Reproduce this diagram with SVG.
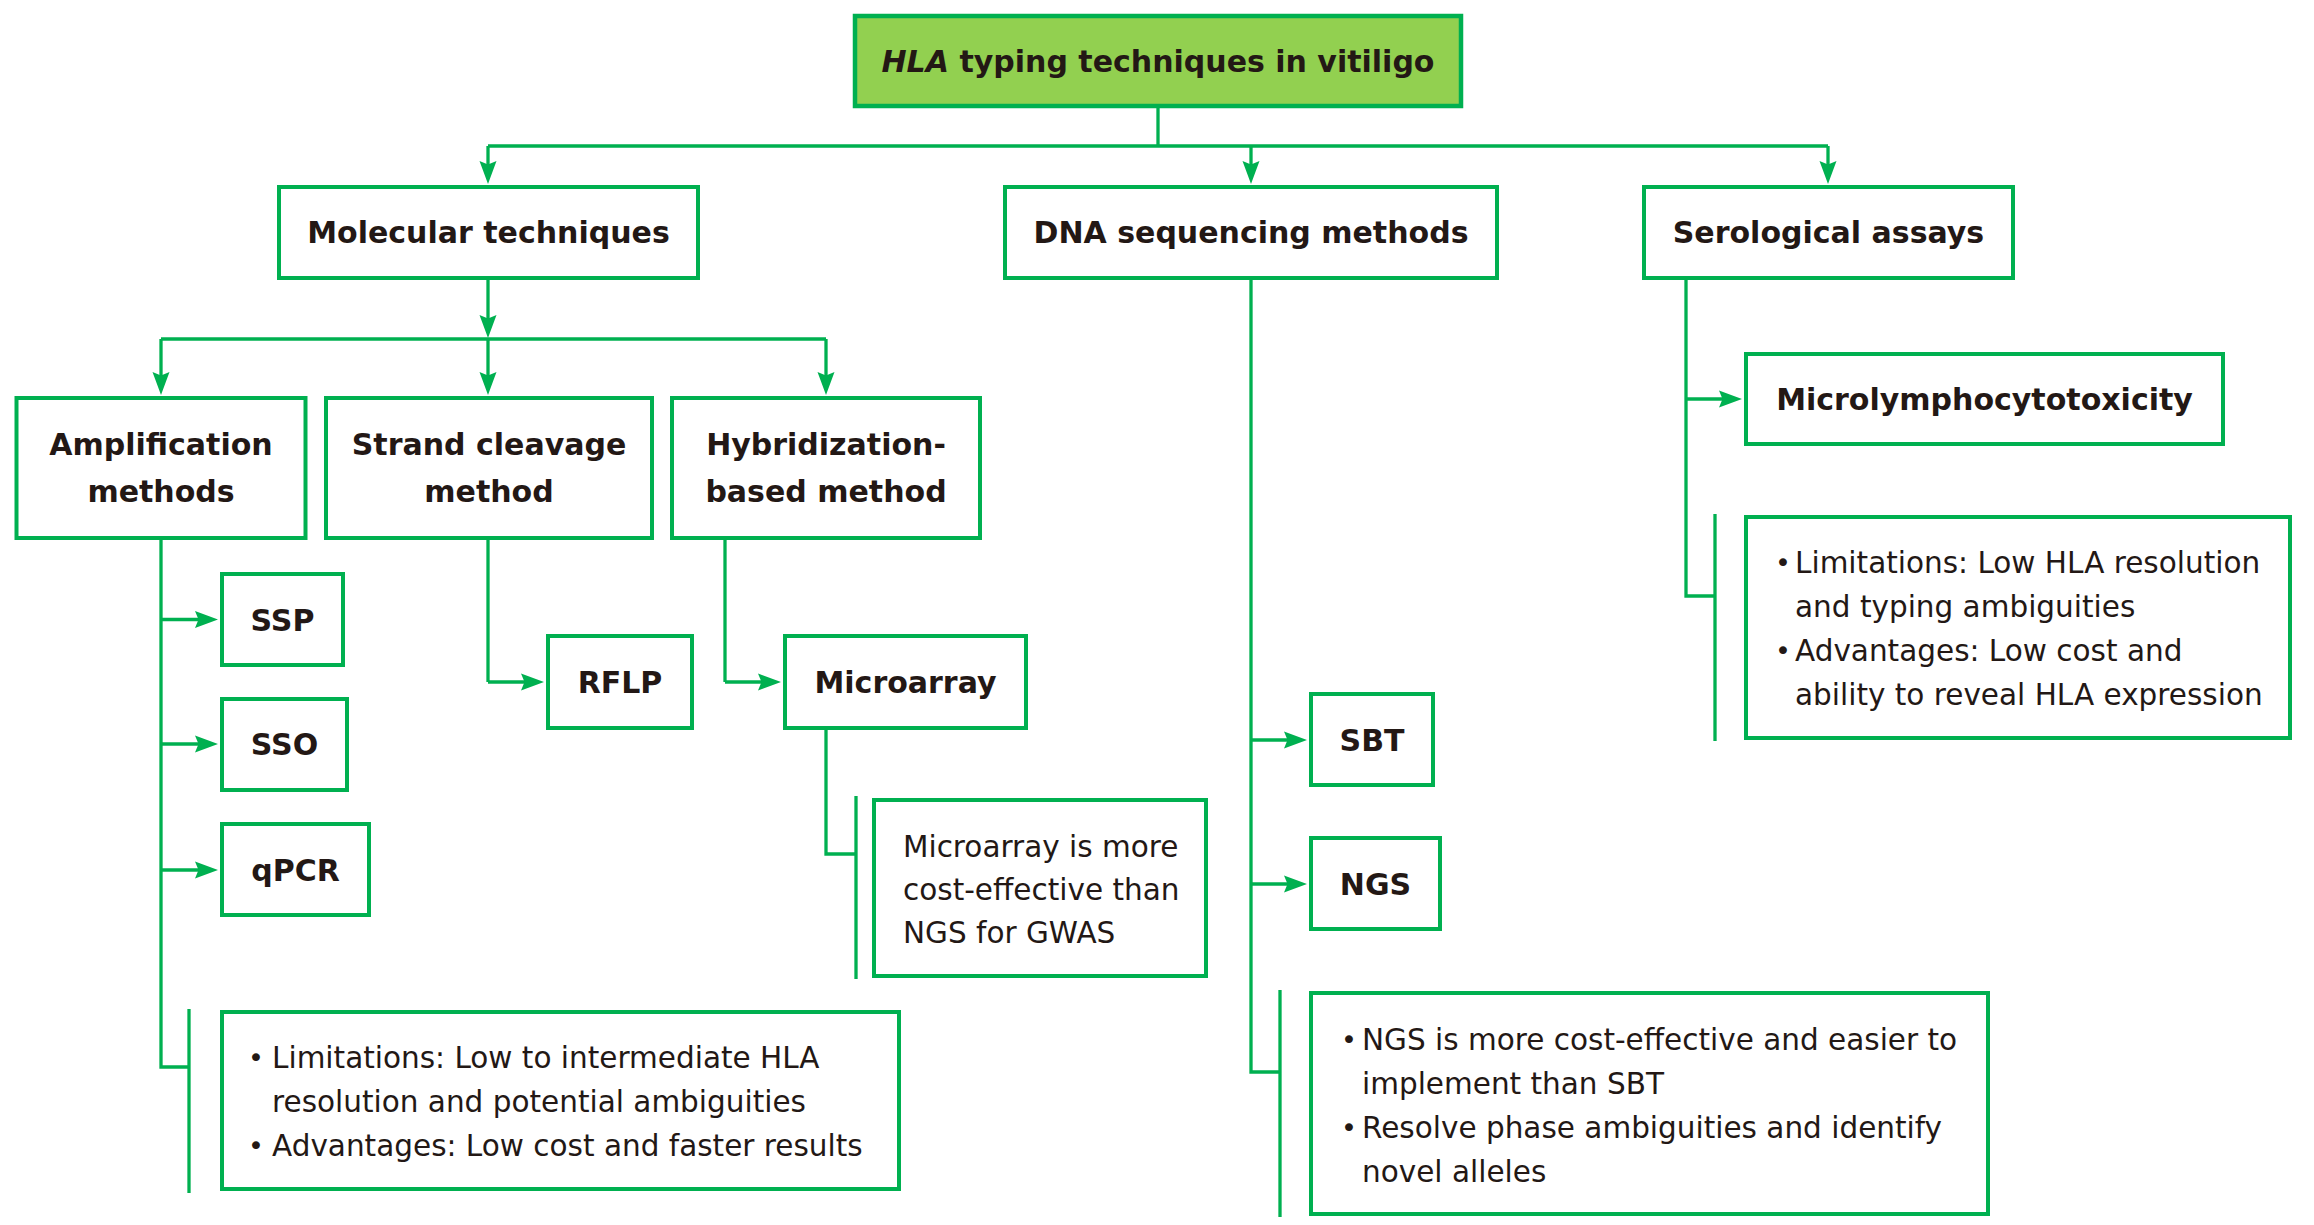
<svg xmlns="http://www.w3.org/2000/svg" width="2314" height="1225" viewBox="0 0 2314 1225">
<style>
.box{fill:#ffffff;stroke:#00b050;stroke-width:4}
.root{fill:#92d050;stroke:#00b050;stroke-width:4.5}
.lbl{font-family:"DejaVu Sans",Verdana,sans-serif;font-weight:bold;font-size:30px;fill:#231815;text-anchor:middle}
.txt{font-family:"DejaVu Sans",Verdana,sans-serif;font-size:29.5px;fill:#231815}
.bul{font-family:"DejaVu Sans",Verdana,sans-serif;font-size:27px;fill:#231815}
.ln{fill:none;stroke:#00b050;stroke-width:3.3}
.arr{fill:none;stroke:#00b050;stroke-width:3.3;marker-end:url(#ah)}
</style>
<defs>
<marker id="ah" markerUnits="userSpaceOnUse" markerWidth="24" markerHeight="18" refX="12" refY="8.5" orient="auto" viewBox="0 0 24 17">
<path d="M0,0 L23,8.5 L0,17 L3.5,8.5 Z" fill="#00b050"/>
</marker>
</defs>
<rect width="2314" height="1225" fill="#ffffff"/>

<g id="connectors">
<path class="ln" d="M1158,108 V146 M488,146 H1828"/>
<path class="arr" d="M488,146 V173"/>
<path class="arr" d="M1251,146 V173"/>
<path class="arr" d="M1828,146 V173"/>
<path class="arr" d="M488,280 V327"/>
<path class="ln" d="M161,339 H826"/>
<path class="arr" d="M161,339 V384"/>
<path class="arr" d="M488,339 V384"/>
<path class="arr" d="M826,339 V384"/>
<path class="ln" d="M161,540 V1067 H189"/>
<path class="arr" d="M161,619.5 H207"/>
<path class="arr" d="M161,744 H207"/>
<path class="arr" d="M161,870 H207"/>
<path class="ln" d="M189,1009 V1193"/>
<path class="ln" d="M488,540 V682"/>
<path class="arr" d="M488,682 H533"/>
<path class="ln" d="M725,540 V682"/>
<path class="arr" d="M725,682 H770"/>
<path class="ln" d="M826,730 V854 H856 M856,796 V979"/>
<path class="ln" d="M1251,280 V1072 H1280 M1280,990 V1217"/>
<path class="arr" d="M1251,740 H1296"/>
<path class="arr" d="M1251,884 H1296"/>
<path class="ln" d="M1686,280 V596 H1715 M1715,514 V741"/>
<path class="arr" d="M1686,399 H1731"/>
</g>

<g id="root">
<rect class="root" x="855" y="16" width="606" height="90"/>
<text class="lbl" x="1158" y="72"><tspan font-style="italic">HLA</tspan> typing techniques in vitiligo</text>
</g>

<g id="molecular">
<rect class="box" x="279" y="187" width="419" height="91"/>
<text class="lbl" x="488.5" y="243">Molecular techniques</text>
</g>
<g id="dna">
<rect class="box" x="1005" y="187" width="492" height="91"/>
<text class="lbl" x="1251" y="243">DNA sequencing methods</text>
</g>
<g id="serological">
<rect class="box" x="1644" y="187" width="369" height="91"/>
<text class="lbl" x="1828.5" y="243">Serological assays</text>
</g>

<g id="amplification">
<rect class="box" x="16.5" y="398" width="289" height="140"/>
<text class="lbl" x="161" y="455">Amplification</text>
<text class="lbl" x="161" y="502">methods</text>
</g>
<g id="strand">
<rect class="box" x="326" y="398" width="326" height="140"/>
<text class="lbl" x="489" y="455">Strand cleavage</text>
<text class="lbl" x="489" y="502">method</text>
</g>
<g id="hybridization">
<rect class="box" x="672" y="398" width="308" height="140"/>
<text class="lbl" x="826" y="455">Hybridization-</text>
<text class="lbl" x="826" y="502">based method</text>
</g>

<g id="ssp">
<rect class="box" x="222" y="574" width="121" height="91"/>
<text class="lbl" x="282.5" y="631">SSP</text>
</g>
<g id="sso">
<rect class="box" x="222" y="699" width="125" height="91"/>
<text class="lbl" x="284.5" y="755">SSO</text>
</g>
<g id="qpcr">
<rect class="box" x="222" y="824" width="147" height="91"/>
<text class="lbl" x="295.5" y="881">qPCR</text>
</g>

<g id="amp-note">
<rect class="box" x="222" y="1012" width="677" height="177"/>
<text class="bul" x="248" y="1067">•</text>
<text class="txt" x="272" y="1068">Limitations: Low to intermediate HLA</text>
<text class="txt" x="272" y="1112">resolution and potential ambiguities</text>
<text class="bul" x="248" y="1155">•</text>
<text class="txt" x="272" y="1156">Advantages: Low cost and faster results</text>
</g>

<g id="rflp">
<rect class="box" x="548" y="636" width="144" height="92"/>
<text class="lbl" x="620" y="693">RFLP</text>
</g>
<g id="microarray">
<rect class="box" x="785" y="636" width="241" height="92"/>
<text class="lbl" x="905.5" y="693">Microarray</text>
</g>
<g id="microarray-note">
<rect class="box" x="874" y="800" width="332" height="176"/>
<text class="txt" x="903" y="857">Microarray is more</text>
<text class="txt" x="903" y="900">cost-effective than</text>
<text class="txt" x="903" y="943">NGS for GWAS</text>
</g>

<g id="sbt">
<rect class="box" x="1311" y="694" width="122" height="91"/>
<text class="lbl" x="1372" y="751">SBT</text>
</g>
<g id="ngs">
<rect class="box" x="1311" y="838" width="129" height="91"/>
<text class="lbl" x="1375.5" y="895">NGS</text>
</g>
<g id="ngs-note">
<rect class="box" x="1311" y="993" width="677" height="221"/>
<text class="bul" x="1341" y="1049">•</text>
<text class="txt" x="1362" y="1050">NGS is more cost-effective and easier to</text>
<text class="txt" x="1362" y="1094">implement than SBT</text>
<text class="bul" x="1341" y="1137">•</text>
<text class="txt" x="1362" y="1138">Resolve phase ambiguities and identify</text>
<text class="txt" x="1362" y="1182">novel alleles</text>
</g>

<g id="microlymphocytotoxicity">
<rect class="box" x="1746" y="354" width="477" height="90"/>
<text class="lbl" x="1984.5" y="410">Microlymphocytotoxicity</text>
</g>
<g id="serological-note">
<rect class="box" x="1746" y="517" width="544" height="221"/>
<text class="bul" x="1775" y="572">•</text>
<text class="txt" x="1795" y="573">Limitations: Low HLA resolution</text>
<text class="txt" x="1795" y="617">and typing ambiguities</text>
<text class="bul" x="1775" y="660">•</text>
<text class="txt" x="1795" y="661">Advantages: Low cost and</text>
<text class="txt" x="1795" y="705">ability to reveal HLA expression</text>
</g>
</svg>
